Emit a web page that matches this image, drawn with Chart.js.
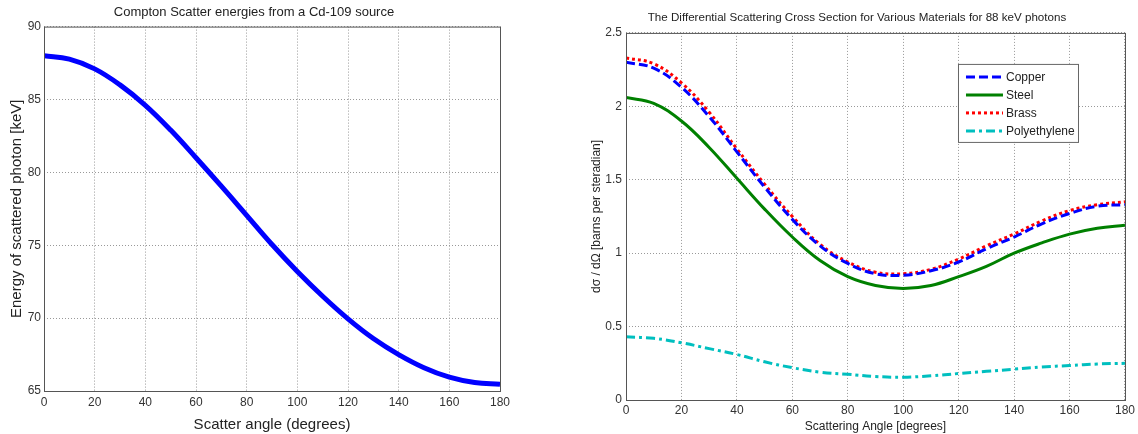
<!DOCTYPE html>
<html>
<head>
<meta charset="utf-8">
<script src="https://cdn.jsdelivr.net/npm/chart.js@4/dist/chart.umd.min.js"></script>
<style>
    body { margin: 0; background: #fff; }
    #wrap { position: relative; width: 1138px; height: 434px; }
    canvas { position: absolute; top: 0; }
    #left { left: 0; }
    #right { left: 570px; }
</style>
</head>
<body>
<div id="wrap">
    <canvas id="left" width="570" height="434"></canvas>
    <canvas id="right" width="568" height="434"></canvas>
</div>
<script>
// scatter angles in degrees (x axis for both plots)
const angles = [0, 10, 20, 30, 40, 50, 60, 70, 80, 90, 100, 110, 120, 130, 140, 150, 160, 170, 180];

// left plot - energy of the scattered photon [keV]
const energy = [88.0, 87.77, 87.1, 86.0, 84.6, 82.9, 81.0, 79.05, 77.05, 75.05, 73.2, 71.5, 69.95, 68.6, 67.5, 66.6, 65.95, 65.58, 65.46];

// right plot - differential cross sections [barns per steradian]
const copper = [2.30, 2.26, 2.13, 1.93, 1.69, 1.45, 1.23, 1.05, 0.93, 0.86, 0.85, 0.88, 0.94, 1.03, 1.11, 1.20, 1.27, 1.32, 1.33];
const steel = [2.06, 2.02, 1.90, 1.72, 1.51, 1.30, 1.11, 0.95, 0.84, 0.78, 0.76, 0.78, 0.84, 0.91, 1.00, 1.07, 1.13, 1.17, 1.19];
const brass = [2.33, 2.29, 2.16, 1.96, 1.71, 1.47, 1.25, 1.06, 0.94, 0.87, 0.86, 0.89, 0.96, 1.05, 1.13, 1.22, 1.29, 1.33, 1.35];
const polyethylene = [0.43, 0.42, 0.39, 0.35, 0.31, 0.26, 0.22, 0.19, 0.175, 0.16, 0.155, 0.165, 0.18, 0.195, 0.21, 0.225, 0.235, 0.245, 0.25];

const xTicks = [0, 20, 40, 60, 80, 100, 120, 140, 160, 180];

const FONT = 'Liberation Sans, Arial, sans-serif';

function toPoints(values) {
    return values.map(function(v, i) { return {x: angles[i], y: v}; });
}

// box around the plot area, matlab style
const frame = {
    id: 'frame',
    afterDraw(chart) {
        const a = chart.chartArea;
        const ctx = chart.ctx;
        ctx.save();
        ctx.strokeStyle = '#555';
        ctx.lineWidth = 1;
        ctx.strokeRect(a.left + 0.5, a.top + 0.5, a.right - a.left, a.bottom - a.top);
        ctx.restore();
    }
};

// legend box drawn inside the plot area, uses the dataset styles
const boxLegend = {
    id: 'boxLegend',
    afterDraw(chart) {
        const a = chart.chartArea;
        const ctx = chart.ctx;
        const x0 = a.right - 167, y0 = a.top + 31, w = 120, h = 78;
        ctx.save();
        ctx.fillStyle = '#fff';
        ctx.fillRect(x0, y0, w, h);
        ctx.strokeStyle = '#666';
        ctx.lineWidth = 1;
        ctx.strokeRect(x0 + 0.5, y0 + 0.5, w, h);
        ctx.font = '12px ' + FONT;
        ctx.textBaseline = 'middle';
        chart.data.datasets.forEach(function(ds, i) {
            const y = y0 + 13 + i * 18;
            ctx.beginPath();
            ctx.strokeStyle = ds.borderColor;
            ctx.lineWidth = ds.borderWidth;
            ctx.setLineDash(ds.borderDash || []);
            ctx.moveTo(x0 + 8, y);
            ctx.lineTo(x0 + 45, y);
            ctx.stroke();
            ctx.setLineDash([]);
            ctx.fillStyle = '#222';
            ctx.fillText(ds.label, x0 + 48, y + 1);
        });
        ctx.restore();
    }
};

function gridOpts() {
    return { color: '#999', lineWidth: 1, drawTicks: false };
}

new Chart(document.getElementById('left'), {
    type: 'line',
    data: {
        datasets: [{
            label: 'Energy',
            data: toPoints(energy),
            borderColor: '#0000ff',
            borderWidth: 5,
            pointRadius: 0,
            tension: 0.4
        }]
    },
    options: {
        responsive: false,
        animation: false,
        layout: { padding: { left: 8, right: 70, top: 0, bottom: 0 } },
        plugins: {
            legend: { display: false },
            tooltip: { enabled: false },
            title: {
                display: true,
                text: 'Compton Scatter energies from a Cd-109 source',
                color: '#222',
                font: { family: FONT, size: 13, weight: 'normal' },
                padding: { top: 5, bottom: 6 }
            }
        },
        scales: {
            x: {
                type: 'linear',
                min: 0, max: 180,
                afterBuildTicks: function(s) { s.ticks = xTicks.map(function(v) { return {value: v}; }); },
                afterFit: function(s) { s.height = 43; },
                grid: gridOpts(),
                border: { display: false, dash: [1, 2] },
                ticks: { color: '#333', padding: 4, font: { family: FONT, size: 12 } },
                title: {
                    display: true,
                    text: 'Scatter angle (degrees)',
                    color: '#222',
                    font: { family: FONT, size: 15 },
                    padding: 0
                }
            },
            y: {
                min: 65, max: 90,
                ticks: { stepSize: 5, color: '#333', padding: 3, font: { family: FONT, size: 12 } },
                afterFit: function(s) { s.width = 36; },
                grid: gridOpts(),
                border: { display: false, dash: [1, 2] },
                title: {
                    display: true,
                    text: 'Energy of scattered photon [keV]',
                    color: '#222',
                    font: { family: FONT, size: 15 },
                    padding: 0
                }
            }
        }
    },
    plugins: [frame]
});

new Chart(document.getElementById('right'), {
    type: 'line',
    data: {
        datasets: [
            { label: 'Copper', data: toPoints(copper), borderColor: '#0000ff', borderWidth: 3, borderDash: [9, 4], pointRadius: 0, tension: 0.4 },
            { label: 'Steel', data: toPoints(steel), borderColor: '#008000', borderWidth: 3, pointRadius: 0, tension: 0.4 },
            { label: 'Brass', data: toPoints(brass), borderColor: '#ff0000', borderWidth: 3, borderDash: [3, 3], pointRadius: 0, tension: 0.4 },
            { label: 'Polyethylene', data: toPoints(polyethylene), borderColor: '#00bfbf', borderWidth: 3, borderDash: [9, 4, 3, 4], pointRadius: 0, tension: 0.4 }
        ]
    },
    options: {
        responsive: false,
        animation: false,
        layout: { padding: { left: 19, right: 13, top: 0, bottom: 0 } },
        plugins: {
            legend: { display: false },
            tooltip: { enabled: false },
            title: {
                display: true,
                text: 'The Differential Scattering Cross Section for Various Materials for 88 keV photons',
                color: '#222',
                font: { family: FONT, size: 11.6, weight: 'normal' },
                padding: { top: 11, bottom: 8 }
            }
        },
        scales: {
            x: {
                type: 'linear',
                min: 0, max: 180,
                afterBuildTicks: function(s) { s.ticks = xTicks.map(function(v) { return {value: v}; }); },
                afterFit: function(s) { s.height = 34; },
                grid: gridOpts(),
                border: { display: false, dash: [1, 2] },
                ticks: { color: '#333', padding: 3, font: { family: FONT, size: 12 } },
                title: {
                    display: true,
                    text: 'Scattering Angle [degrees]',
                    color: '#222',
                    font: { family: FONT, size: 12 },
                    padding: 0
                }
            },
            y: {
                min: 0, max: 2.5,
                ticks: {
                    stepSize: 0.5, color: '#333', padding: 4, font: { family: FONT, size: 12 },
                    callback: function(v) { return String(+v.toFixed(1)); }
                },
                afterFit: function(s) { s.width = 37; },
                grid: gridOpts(),
                border: { display: false, dash: [1, 2] },
                title: {
                    display: true,
                    text: 'dσ / dΩ [barns per steradian]',
                    color: '#222',
                    font: { family: FONT, size: 12 },
                    padding: 0
                }
            }
        }
    },
    plugins: [frame, boxLegend]
});
</script>
</body>
</html>
